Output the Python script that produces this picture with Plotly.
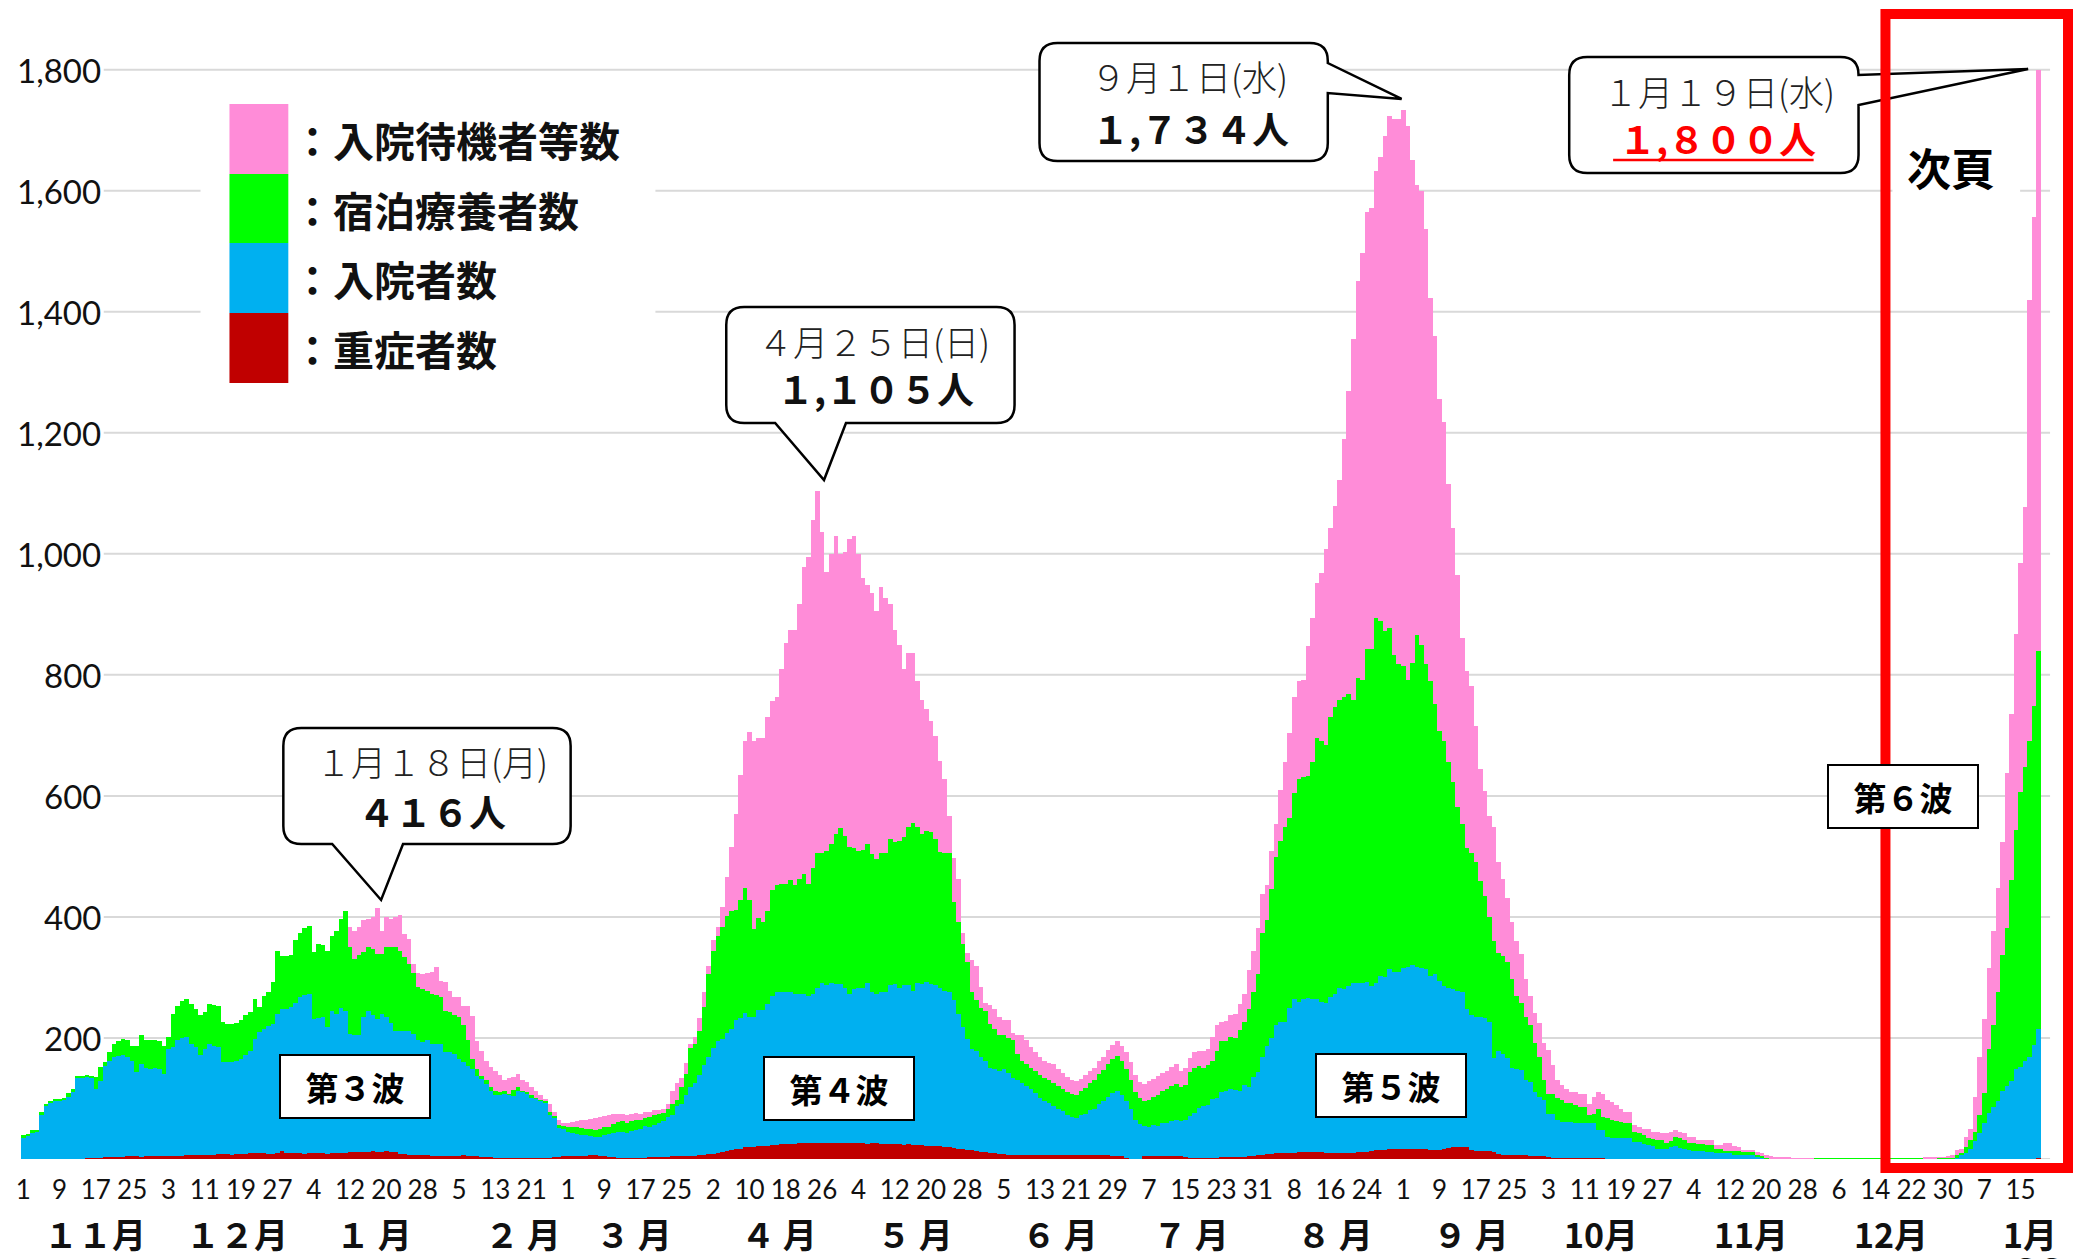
import plotly.graph_objects as go
import pandas as pd

W, H = 2073, 1259

# one bar per day, 2020-11-01 .. 2022-01-19
dates = pd.date_range("2020-11-01", "2022-01-19", freq="D")

# 重症者数
severe = [
    0,0,0,0,0,0,0,0,0,1, 1,1,1,1,2,3,3,3,4,4, 4,4,4,5,5,5,4,5,5,5,             # 2020-11
    6,6,6,6,5,6,7,7,7,8, 8,8,8,9,9,9,8,9,9,9, 10,10,10,10,9,9,10,14,11,10, 10,  # 2020-12
    10,9,10,10,10,10,9,10,10,11, 11,12,12,12,13,13,14,13,13,14, 13,12,9,9,8,8,7,7,7,6, 6,  # 2021-01
    5,5,5,6,6,7,6,5,5,4, 4,4,3,3,3,3,3,3,3,3, 3,3,3,3,3,4,4,5,                # 2021-02
    5,5,6,6,6,7,7,6,5,4, 4,3,3,3,3,3,3,3,4,4, 4,4,4,5,5,5,5,6,6,7, 8,         # 2021-03
    9,9,10,12,14,16,17,18,20,21, 21,22,22,23,24,24,25,25,26,26, 27,27,28,28,27,28,28,27,27,28,  # 2021-04
    27,28,28,27,27,26,27,27,26,26, 25,25,25,24,25,24,24,24,23,23, 23,22,21,20,19,18,17,16,15,14, 13,  # 2021-05
    12,11,10,9,9,8,8,8,8,8, 8,8,7,7,7,8,8,8,8,8, 8,8,8,8,7,7,7,7,6,6,         # 2021-06
    5,3,1,0,1,5,6,6,6,6, 6,5,5,5,4,3,3,3,3,3, 3,3,4,4,4,4,4,4,5,6, 7,         # 2021-07
    8,9,9,10,10,11,11,11,12,12, 13,13,12,12,11,11,11,10,10,11, 11,12,12,13,14,16,16,16,17,17, 18,  # 2021-08
    18,18,18,17,17,17,16,16,16,18, 19,20,21,21,20,15,14,14,14,14, 13,9,8,7,7,7,7,7,6,6,  # 2021-09
    6,5,4,3,3,3,3,3,3,3, 2,2,2,2,2,1,1,1,1,1, 1,1,0,0,0,0,0,0,0,0, 0,         # 2021-10
    0,0,0,0,0,0,0,0,0,0, 0,0,0,0,0,0,0,0,0,0, 0,0,0,0,0,0,0,0,0,0,            # 2021-11
    0,0,0,0,0,0,0,0,0,0, 0,0,0,0,0,0,0,0,0,0, 0,0,0,0,0,0,0,0,0,0, 0,         # 2021-12
    0,0,0,0,0,0,0,0,0,0, 0,0,0,0,0,1,1,1,2,                                   # 2022-01
]

# 入院者数 (重症者数を含む)
hosp = [
    37,39,45,46,75,90,95,97,98,98, 104,112,135,136,137,136,117,130,155,163, 169,171,172,170,163,144,158,152,150,151,
    149,141,183,186,197,200,202,191,186,172, 183,191,188,186,161,161,161,162,166,172, 180,199,210,215,221,224,241,249,248,252, 259,
    268,272,274,232,234,235,219,246,241,250, 246,208,205,205,235,246,238,232,240,236, 226,213,213,213,213,208,197,194,197,191, 191,
    191,177,177,175,166,161,155,150,138,133, 125,113,107,106,109,107,105,114,113,108, 103,100,97,94,73,70,52,50,
    46,44,42,41,40,39,38,37,40,42, 44,45,46,44,47,49,51,55,54,57, 61,63,70,73,88,91,106,120,127,140, 156,
    170,184,195,199,209,216,231,233,242,236, 236,247,247,257,270,277,277,277,277,274, 274,274,270,274,284,291,288,291,290,290,
    284,274,281,284,284,291,277,274,277,277, 288,290,284,288,288,279,291,290,293,290, 288,284,279,277,263,240,219,199,183,179, 170,
    163,152,149,147,149,143,134,131,126,121, 117,110,102,96,93,88,84,80,74,70, 69,73,75,81,84,91,96,103,110,114,
    106,96,84,66,59,55,54,57,56,60, 61,64,66,63,66,72,77,85,88,90, 100,102,111,113,117,115,113,123,120,136, 145,
    170,188,200,223,227,227,250,265,261,265, 267,265,265,261,259,268,273,284,282,287, 291,291,291,293,287,291,304,302,314,310, 310,
    316,318,322,318,316,314,304,307,295,287, 284,282,279,276,248,239,236,236,234,227, 168,179,174,168,152,150,148,131,128,112,
    104,98,76,76,65,62,62,62,61,61, 61,60,60,48,48,38,36,36,36,36, 35,29,29,26,24,22,18,18,18,20, 23,
    19,18,15,14,14,14,13,13,10,10, 10,10,7,7,7,7,7,4,3,2, 2,1,1,1,1,1,0,0,0,0,
    0,0,0,0,0,0,0,0,0,0, 0,0,0,0,0,0,0,0,0,0, 0,0,0,0,0,1,1,1,1,1, 1,
    4,7,11,17,31,44,60,77,86,97, 113,121,130,150,153,163,170,190,216,
]

# 宿泊療養者数
hotel = [
    3,3,3,3,3,2,2,3,2,4, 6,5,2,1,1,2,20,23,6,14, 22,25,27,27,25,44,47,45,48,46,
    47,47,19,55,57,62,63,66,63,66, 60,66,68,68,66,63,63,64,64,66, 63,66,42,55,55,69,104,88,89,86, 103,
    107,111,112,111,122,119,126,124,137,148, 164,143,127,133,108,105,110,108,100,115, 125,138,131,122,110,101,88,88,81,83, 81,
    77,69,66,63,69,61,43,16,12,5, 7,7,6,5,4,2,10,5,1,4, 3,2,2,2,5,2,5,5,
    7,9,11,11,11,11,11,14,13,12, 14,17,17,16,16,17,14,14,16,16, 14,14,14,18,10,29,35,64,64,73, 96,
    136,161,175,186,193,194,182,196,206,192, 145,152,145,153,175,176,178,178,185,179, 189,197,186,207,222,215,222,230,248,257,
    251,243,234,226,228,230,228,222,229,229, 241,234,242,245,261,277,258,248,250,251, 241,224,227,229,163,153,137,127,94,84, 81,
    82,72,67,59,57,57,63,44,37,37, 35,36,38,38,38,39,37,37,37,38, 38,40,43,45,48,50,52,54,56,57,
    57,53,47,46,42,42,45,46,51,53, 55,57,59,56,57,73,74,69,64,66, 62,77,85,83,85,85,101,104,128,140, 162,
    205,207,247,277,299,322,314,341,367,367, 367,392,432,430,426,463,475,475,483,483, 468,504,502,551,557,604,586,571,564,523, 508,
    500,475,499,549,534,504,487,446,413,404, 373,341,304,279,267,268,256,225,201,174, 193,162,162,159,147,120,111,105,94,81,
    66,33,33,33,36,36,31,31,29,26, 26,13,16,36,22,30,29,28,26,24, 25,17,14,14,12,12,15,14,10,10, 15,
    17,14,12,13,11,11,11,11,7,7, 4,4,7,7,6,6,6,4,2,1, 0,1,1,1,1,0,1,1,1,1,
    3,3,3,3,3,3,3,3,3,3, 3,1,1,1,1,1,1,1,1,1, 1,1,1,1,2,1,1,2,2,2, 3,
    3,4,9,16,15,29,50,106,137,179, 225,261,332,395,455,485,521,560,624,
]

# 入院待機者等数
waiting = [
    0,0,0,0,0,0,0,0,0,0, 0,0,0,0,0,0,0,0,0,0, 0,0,0,0,0,0,0,0,0,0,
    0,0,0,0,0,0,0,0,0,0, 0,0,0,0,0,0,0,0,0,0, 0,0,0,0,0,0,0,0,0,0, 0,
    0,0,0,0,0,0,0,0,0,0, 0,33,46,46,52,47,52,76,38,49, 47,49,60,37,41,14,23,24,31,36, 46,
    27,47,36,30,33,32,56,71,46,42, 31,33,34,28,18,25,21,22,17,16, 14,11,8,4,14,6,9,6,
    8,9,11,14,15,17,19,19,19,20, 17,14,13,13,12,11,11,10,8,8, 7,7,7,22,29,14,18,7,11,21, 25,
    14,18,15,32,65,107,158,206,244,279, 311,297,304,322,312,311,355,398,413,422, 455,508,540,576,599,531,460,479,492,453,
    469,508,515,491,449,429,431,410,440,421, 389,351,324,277,288,281,242,222,201,184, 171,150,122,61,73,70,18,16,52,57, 34,
    14,32,33,30,25,31,12,31,42,39, 34,32,30,28,29,30,29,26,25,23, 22,20,21,20,20,22,22,24,24,25,
    25,28,30,28,27,27,30,30,31,30, 30,32,33,28,28,23,26,25,28,26, 40,44,31,33,37,40,43,46,65,68, 75,
    64,59,62,55,85,108,140,159,163,161, 214,238,255,278,324,312,332,364,426,500, 597,657,705,722,728,739,767,818,847,886, 901,
    918,915,830,744,750,719,633,608,549,528, 460,420,383,306,292,275,224,184,174,167, 188,151,128,105,94,91,80,63,48,49,
    55,61,72,47,30,25,24,19,22,22, 22,18,28,28,38,30,30,26,22,18, 18,11,11,10,14,12,13,11,15,16, 10,
    10,11,11,11,8,8,8,8,7,7, 13,13,8,7,3,3,3,5,5,4, 3,2,2,2,1,1,1,1,1,1,
    0,0,0,0,0,0,0,0,0,0, 0,0,0,0,0,0,0,0,0,0, 0,0,0,0,1,1,2,1,1,2, 3,
    8,6,17,17,58,97,122,133,155,173, 186,256,274,324,378,431,730,807,960,
]

tick_labels = ["1","9","17","25","3","11","19","27","4","12","20","28","5","13","21",
               "1","9","17","25","2","10","18","26","4","12","20","28","5","13","21","29",
               "7","15","23","31","8","16","24","1","9","17","25","3","11","19","27",
               "4","12","20","28","6","14","22","30","7","15"]
month_labels = ["１１月","１２月","１ 月","２ 月","３ 月","４ 月","５ 月","６ 月","７ 月",
                "８ 月","９ 月","10月","11月","12月","1月"]
y_ticks = [200, 400, 600, 800, 1000, 1200, 1400, 1600, 1800]

for arr in (severe, hosp, hotel, waiting):
    assert len(arr) == len(dates), len(arr)

hosp_only = [h - s for h, s in zip(hosp, severe)]

PINK, GREEN, BLUE, RED = "#FF8CD8", "#00FF00", "#00B0F0", "#C00000"
JP = "Noto Sans CJK JP"


def px(x, y):
    return x / W, 1 - y / H


def P(x, y):
    a, b = px(x, y)
    return f"{a:.5f},{b:.5f}"


fig = go.Figure()
for name, vals, col in [("重症者数", severe, RED), ("入院者数", hosp_only, BLUE),
                        ("宿泊療養者数", hotel, GREEN), ("入院待機者等数", waiting, PINK)]:
    fig.add_trace(go.Bar(x=dates, y=vals, name=name, marker_color=col,
                         marker_line_width=0, hoverinfo="x+y+name"))

shapes = []
# grid lines
for v in [0] + y_ticks:
    shapes.append(dict(type="line", xref="paper", yref="y", x0=(16 if v == 0 else 99) / W,
                       x1=2050 / W, y0=v, y1=v, line=dict(color="#D9D9D9", width=2), layer="below"))

# legend block
shapes.append(dict(type="rect", xref="paper", yref="paper", x0=px(196, 0)[0], x1=px(652, 0)[0],
                   y0=px(0, 400)[1], y1=px(0, 90)[1], fillcolor="white", line_width=0, layer="above"))
leg = [("：入院待機者等数", PINK, 104, 174), ("：宿泊療養者数", GREEN, 174, 243),
       ("：入院者数", BLUE, 243, 313), ("：重症者数", RED, 313, 383)]
for txt, col, ya, yb in leg:
    shapes.append(dict(type="rect", xref="paper", yref="paper", x0=225 / W, x1=284 / W,
                       y0=1 - yb / H, y1=1 - ya / H, fillcolor=col, line_width=0, layer="above"))

# white patch behind 次頁
shapes.append(dict(type="rect", xref="paper", yref="paper", x0=1892 / W, x1=2020 / W,
                   y0=1 - 212 / H, y1=1 - 125 / H, fillcolor="white", line_width=0, layer="above"))


def bubble_bottom(x0, y0, x1, y1, a, b, tx, ty, r=18):
    return (f"M{P(x0+r,y0)} L{P(x1-r,y0)} Q{P(x1,y0)} {P(x1,y0+r)} L{P(x1,y1-r)} "
            f"Q{P(x1,y1)} {P(x1-r,y1)} L{P(b,y1)} L{P(tx,ty)} L{P(a,y1)} L{P(x0+r,y1)} "
            f"Q{P(x0,y1)} {P(x0,y1-r)} L{P(x0,y0+r)} Q{P(x0,y0)} {P(x0+r,y0)} Z")


def bubble_right(x0, y0, x1, y1, a, b, tx, ty, r=18):
    return (f"M{P(x0+r,y0)} L{P(x1-r,y0)} Q{P(x1,y0)} {P(x1,y0+r)} L{P(x1,a)} L{P(tx,ty)} "
            f"L{P(x1,b)} L{P(x1,y1-r)} Q{P(x1,y1)} {P(x1-r,y1)} L{P(x0+r,y1)} "
            f"Q{P(x0,y1)} {P(x0,y1-r)} L{P(x0,y0+r)} Q{P(x0,y0)} {P(x0+r,y0)} Z")


for path in [bubble_bottom(279, 728, 567, 844, 328, 399, 377, 900),
             bubble_bottom(723, 307, 1012, 423, 772, 843, 821, 480),
             bubble_right(1037, 43, 1326, 161, 63, 93, 1400, 99),
             bubble_right(1568, 57, 1858, 173, 75, 105, 2028, 69)]:
    shapes.append(dict(type="path", xref="paper", yref="paper", path=path,
                       fillcolor="white", line=dict(color="black", width=2.5), layer="above"))

# underline of 1,800人
shapes.append(dict(type="line", xref="paper", yref="paper", x0=1612 / W, x1=1813 / W,
                   y0=1 - 160 / H, y1=1 - 160 / H, line=dict(color="#FF0000", width=2.5), layer="above"))

# red frame
shapes.append(dict(type="rect", xref="paper", yref="paper", x0=1885 / W, x1=2068 / W,
                   y0=1 - 1168 / H, y1=1 - 14 / H, line=dict(color="#FF0000", width=10),
                   fillcolor="rgba(0,0,0,0)", layer="above"))

ann = []


def note(text, x, y, size, color="#111", family=JP, xanchor="center", weight=None, **kw):
    font = dict(family=family, size=size, color=color)
    if weight:
        font["weight"] = weight
    ann.append(dict(text=text, x=x / W, y=1 - y / H, xref="paper", yref="paper",
                    xanchor=xanchor, yanchor="middle", showarrow=False, font=font, **kw))


# y tick labels
for v in y_ticks:
    ann.append(dict(text=f"{v:,}", x=97 / W, y=v, xref="paper", yref="y", xanchor="right",
                    yanchor="middle", showarrow=False, bgcolor="white", borderpad=0,
                    font=dict(family="Lato", size=33, color="#111")))

# legend texts
for (txt, col, ya, yb) in leg:
    note(f"<b>{txt}</b>", 286, (ya + yb) / 2, 41, xanchor="left")

# month labels
month_x = [90, 233, 370, 519, 631, 776, 912, 1058, 1189, 1333, 1470, 1600, 1750, 1891, 2030]
for t, x in zip(month_labels, month_x):
    note(f"<b>{t}</b>", x, 1233, 34)
note("<b>22</b>", 2040, 1272, 44)

# callout texts
note("１月１８日(月)", 428, 760, 35, color="#222", weight=300)
note("<b>４１６人</b>", 428, 811, 37)
note("４月２５日(日)", 871, 340, 35, color="#222", weight=300)
note("<b>１,１０５人</b>", 873, 388, 37)
note("９月１日(水)", 1187, 75, 35, color="#222", weight=300)
note("<b>１,７３４人</b>", 1188, 128, 37)
note("１月１９日(水)", 1718, 90, 35, color="#222", weight=300)
note("<b>１,８００人</b>", 1717, 138, 37, color="#FF0000")

# wave labels
for t, cx, cy in [("第３波", 351, 1086), ("第４波", 836, 1088), ("第５波", 1389, 1085),
                  ("第６波", 1903, 796)]:
    note(f"<b>{t}</b>", cx, cy, 33, color="black", bgcolor="white", bordercolor="black",
         borderwidth=2, borderpad=1, width=146, height=59)

note("<b>次頁</b>", 1951, 167, 44, color="black")

fig.update_layout(
    width=W, height=H, margin=dict(l=0, r=0, t=0, b=0),
    plot_bgcolor="white", paper_bgcolor="white",
    barmode="stack", bargap=0, showlegend=False,
    font=dict(family="Lato"),
    xaxis=dict(type="date", domain=[16 / W, 2050 / W],
               range=["2020-10-31 12:00", "2022-01-21 12:00"],
               tickmode="array", tickvals=list(dates[::8]), ticktext=tick_labels,
               ticks="outside", ticklen=8, tickcolor="rgba(0,0,0,0)",
               tickfont=dict(family="Lato", size=26, color="#111"),
               showgrid=False, zeroline=False, showline=False, ticklabeloverflow="allow"),
    yaxis=dict(range=[0, 1830], domain=[(H - 1159) / H, (H - 51.5) / H],
               showgrid=False, zeroline=False, showticklabels=False, showline=False),
    shapes=shapes, annotations=ann,
)

fig.write_html("out.html", config={"displayModeBar": False},
               post_script="document.body.style.margin='0';document.body.style.overflow='hidden';")
